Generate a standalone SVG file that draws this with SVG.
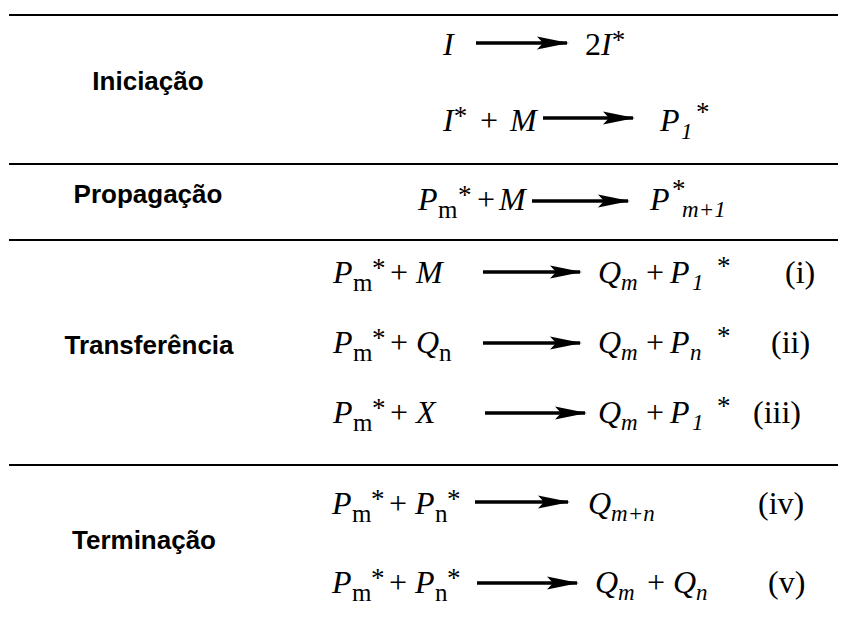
<svg xmlns="http://www.w3.org/2000/svg" width="846" height="621" viewBox="0 0 846 621">
<style>
.lbl{font-family:"Liberation Sans",Arial,sans-serif;font-weight:bold;font-size:26px;text-anchor:middle;fill:#000}
.f{font-family:"Liberation Serif","Times New Roman",serif;font-size:32px;fill:#000}
.it{font-style:italic}
.sub{font-size:25px}
.isub{font-size:23px;font-style:italic}
.sup{font-size:27px}
.rule{stroke:#000;stroke-width:2.2}
.arr{stroke:#000;stroke-width:3.4;fill:none}
</style>
<defs>
<marker id="ah" viewBox="0 0 32 14" refX="30" refY="7" markerWidth="32" markerHeight="14" markerUnits="userSpaceOnUse" orient="auto">
<path d="M0,0.5 L32,7 L0,13.5 L6,7 Z" fill="#000"/>
</marker>
</defs>
<rect width="846" height="621" fill="#fff"/>
<g id="rules">
<line class="rule" x1="9" y1="15" x2="838" y2="15"/>
<line class="rule" x1="9" y1="164" x2="838" y2="164"/>
<line class="rule" x1="9" y1="240" x2="838" y2="240"/>
<line class="rule" x1="9" y1="465" x2="838" y2="465"/>
</g>
<g id="labels">
<g id="lbl-iniciacao"><text class="lbl" x="148" y="90">Iniciação</text></g>
<g id="lbl-propagacao"><text class="lbl" x="148" y="203">Propagação</text></g>
<g id="lbl-transferencia"><text class="lbl" x="149" y="354">Transferência</text></g>
<g id="lbl-terminacao"><text class="lbl" x="144" y="549">Terminação</text></g>
</g>
<g id="connectors">
<line class="arr" x1="476" y1="43" x2="567" y2="43" marker-end="url(#ah)"/>
<line class="arr" x1="543" y1="118" x2="633" y2="118" marker-end="url(#ah)"/>
<line class="arr" x1="532" y1="201" x2="628" y2="201" marker-end="url(#ah)"/>
<line class="arr" x1="483" y1="272" x2="580" y2="272" marker-end="url(#ah)"/>
<line class="arr" x1="483" y1="343" x2="580" y2="343" marker-end="url(#ah)"/>
<line class="arr" x1="485" y1="413" x2="585" y2="413" marker-end="url(#ah)"/>
<line class="arr" x1="475" y1="502" x2="568" y2="502" marker-end="url(#ah)"/>
<line class="arr" x1="477" y1="583" x2="577" y2="583" marker-end="url(#ah)"/>
</g>
<g id="eq1">
<text class="f"><tspan class="it" x="443" y="55">I</tspan><tspan x="585" y="55">2</tspan><tspan class="it">I</tspan><tspan class="sup" dy="-6">*</tspan></text>
</g>
<g id="eq2">
<text class="f"><tspan class="it" x="443" y="131">I</tspan><tspan class="sup" dy="-6">*</tspan><tspan x="480" y="131">+</tspan><tspan class="it" x="510" y="131">M</tspan><tspan class="it" x="660" y="131">P</tspan><tspan class="isub" x="681" y="139">1</tspan><tspan class="sup" x="696" y="121">*</tspan></text>
</g>
<g id="eq3">
<text class="f"><tspan class="it" x="418" y="210">P</tspan><tspan class="sub" x="438" y="218">m</tspan><tspan class="sup" x="458" y="204">*</tspan><tspan x="477" y="210">+</tspan><tspan class="it" x="499" y="210">M</tspan><tspan class="it" x="650" y="210">P</tspan><tspan class="sup" x="672" y="198">*</tspan><tspan class="isub" x="682" y="217">m</tspan><tspan class="isub">+</tspan><tspan class="isub">1</tspan></text>
</g>
<g id="eq-i">
<text class="f"><tspan class="it" x="333" y="283">P</tspan><tspan class="sub" x="353" y="291">m</tspan><tspan class="sup" x="372" y="277">*</tspan><tspan x="390" y="283">+</tspan><tspan class="it" x="416" y="283">M</tspan><tspan class="it" x="598" y="283">Q</tspan><tspan class="isub" x="621" y="290">m</tspan><tspan x="646" y="283">+</tspan><tspan class="it" x="670" y="283">P</tspan><tspan class="isub" x="692" y="290">1</tspan><tspan class="sup" x="717" y="275">*</tspan><tspan x="785" y="283">(i)</tspan></text>
</g>
<g id="eq-ii">
<text class="f"><tspan class="it" x="333" y="353">P</tspan><tspan class="sub" x="353" y="361">m</tspan><tspan class="sup" x="372" y="347">*</tspan><tspan x="390" y="353">+</tspan><tspan class="it" x="416" y="353">Q</tspan><tspan class="sub" x="439" y="361">n</tspan><tspan class="it" x="598" y="353">Q</tspan><tspan class="isub" x="621" y="360">m</tspan><tspan x="646" y="353">+</tspan><tspan class="it" x="670" y="353">P</tspan><tspan class="isub" x="690" y="360">n</tspan><tspan class="sup" x="717" y="345">*</tspan><tspan x="771" y="353">(ii)</tspan></text>
</g>
<g id="eq-iii">
<text class="f"><tspan class="it" x="333" y="423">P</tspan><tspan class="sub" x="353" y="431">m</tspan><tspan class="sup" x="372" y="417">*</tspan><tspan x="390" y="423">+</tspan><tspan class="it" x="416" y="423">X</tspan><tspan class="it" x="598" y="423">Q</tspan><tspan class="isub" x="621" y="430">m</tspan><tspan x="646" y="423">+</tspan><tspan class="it" x="670" y="423">P</tspan><tspan class="isub" x="692" y="430">1</tspan><tspan class="sup" x="717" y="415">*</tspan><tspan x="753" y="423">(iii)</tspan></text>
</g>
<g id="eq-iv">
<text class="f"><tspan class="it" x="332" y="514">P</tspan><tspan class="sub" x="352" y="522">m</tspan><tspan class="sup" x="371" y="508">*</tspan><tspan x="389" y="514">+</tspan><tspan class="it" x="415" y="514">P</tspan><tspan class="sub" x="435" y="522">n</tspan><tspan class="sup" x="447" y="508">*</tspan><tspan class="it" x="588" y="514">Q</tspan><tspan class="isub" x="611" y="521">m</tspan><tspan class="isub">+</tspan><tspan class="isub">n</tspan><tspan x="758" y="514">(iv)</tspan></text>
</g>
<g id="eq-v">
<text class="f"><tspan class="it" x="332" y="593">P</tspan><tspan class="sub" x="352" y="601">m</tspan><tspan class="sup" x="371" y="587">*</tspan><tspan x="389" y="593">+</tspan><tspan class="it" x="415" y="593">P</tspan><tspan class="sub" x="435" y="601">n</tspan><tspan class="sup" x="447" y="587">*</tspan><tspan class="it" x="595" y="593">Q</tspan><tspan class="isub" x="618" y="600">m</tspan><tspan x="647" y="593">+</tspan><tspan class="it" x="673" y="593">Q</tspan><tspan class="isub" x="696" y="600">n</tspan><tspan x="768" y="593">(v)</tspan></text>
</g>
</svg>
